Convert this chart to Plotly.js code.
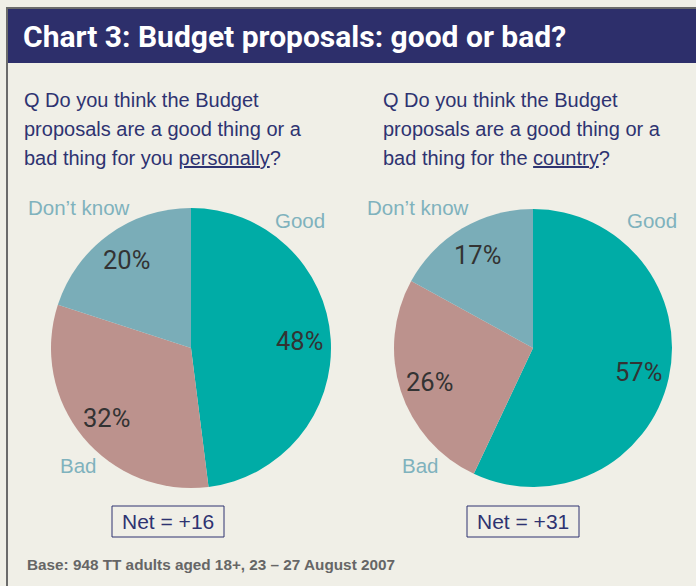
<!DOCTYPE html>
<html>
<head>
<meta charset="utf-8">
<script src="https://cdn.plot.ly/plotly-3.0.1.min.js"></script>
<style>
  html, body { margin: 0; padding: 0; background: #f0efe7; }
  #chart { width: 696px; height: 586px; }
</style>
</head>
<body>
<div id="chart"></div>
<script>
// ---- data ----
const categories = ["Good", "Bad", "Don\u2019t know"];
const personalValues = [48, 32, 20];
const countryValues = [57, 26, 17];
const personalNet = "+16";
const countryNet = "+31";
const chartTitle = "Chart 3: Budget proposals: good or bad?";
const question1 = ["Q Do you think the Budget", "proposals are a good thing or a", "bad thing for you <span style=\"text-decoration:underline\">personally</span>?"];
const question2 = ["Q Do you think the Budget", "proposals are a good thing or a", "bad thing for the <span style=\"text-decoration:underline\">country</span>?"];
const baseNote = "Base: 948 TT adults aged 18+, 23 \u2013 27 August 2007";

// ---- styling ----
const W = 696, H = 586;
const sliceColors = ["#00aca6", "#bc928d", "#7aadb8"];
const navy = "#2d2f6b";
const labelColor = "#7fb2bd";
const sans = "'Liberation Sans', Arial, sans-serif";
const titleFont = "Roboto, 'Liberation Sans', sans-serif";
const px = x => x / W;
const py = y => 1 - y / H;

const pies = [
  {values: personalValues, cx: 191, cy: 348, r: 140, net: personalNet, netX: 168, q: question1, qx: 24,
   lab: {dk: [28, 208], good: [300, 221], bad: [78, 466]}},
  {values: countryValues, cx: 533, cy: 348, r: 139, net: countryNet, netX: 523, q: question2, qx: 383,
   lab: {dk: [367, 208], good: [652, 221], bad: [420, 466]}}
];

const data = pies.map(p => ({
  type: "pie",
  labels: categories,
  values: p.values,
  sort: false,
  direction: "clockwise",
  rotation: 0,
  textinfo: "none",
  hoverinfo: "label+percent",
  marker: {colors: sliceColors, line: {width: 0}},
  domain: {x: [px(p.cx - p.r), px(p.cx + p.r)], y: [py(p.cy + p.r), py(p.cy - p.r)]},
  showlegend: false
}));

const annotations = [];
const shapes = [];

// frame & title bar
shapes.push({type: "rect", xref: "paper", yref: "paper", x0: px(6), x1: px(8), y0: 0, y1: py(7), fillcolor: "#6b6b6b", line: {width: 0}, layer: "below"});
shapes.push({type: "rect", xref: "paper", yref: "paper", x0: px(6), x1: 1, y0: py(9), y1: py(7), fillcolor: "#6b6b6b", line: {width: 0}, layer: "below"});
shapes.push({type: "rect", xref: "paper", yref: "paper", x0: px(8), x1: 1, y0: py(63), y1: py(9), fillcolor: navy, line: {width: 0}, layer: "below"});

annotations.push({xref: "paper", yref: "paper", x: px(21), y: py(37), xanchor: "left", yanchor: "middle", showarrow: false,
  text: "<b>" + chartTitle + "</b>", font: {family: titleFont, size: 30, color: "#ffffff"}});

pies.forEach(p => {
  // question lines
  p.q.forEach((line, i) => {
    annotations.push({xref: "paper", yref: "paper", x: px(p.qx - 2), y: py(100 + 29 * i), xanchor: "left", yanchor: "middle", showarrow: false,
      text: line, font: {family: sans, size: 20, color: "#2e3371"}});
  });
  // category labels
  const labs = [["Good", p.lab.good, "center"], ["Bad", p.lab.bad, "center"], ["Don\u2019t know", p.lab.dk, "left"]];
  labs.forEach(l => {
    annotations.push({xref: "paper", yref: "paper", x: px(l[1][0] - (l[2] === "left" ? 2 : 0)), y: py(l[1][1]), xanchor: l[2], yanchor: "middle", showarrow: false,
      text: l[0], font: {family: sans, size: 20.5, color: labelColor}});
  });
  // percentage labels at slice mid-angles (from values)
  const total = p.values.reduce((a, b) => a + b, 0);
  let cum = 0;
  p.values.forEach(v => {
    const mid = (cum + v / 2) / total * 2 * Math.PI;
    cum += v;
    const x = p.cx + 0.78 * p.r * Math.sin(mid);
    const y = p.cy - 0.78 * p.r * Math.cos(mid);
    annotations.push({xref: "paper", yref: "paper", x: px(x), y: py(y), xanchor: "center", yanchor: "middle", showarrow: false,
      text: Math.round(v / total * 100) + "%", font: {family: "Roboto, 'Liberation Sans', sans-serif", size: 25.5, color: "#333333"}});
  });
  // net box
  annotations.push({xref: "paper", yref: "paper", x: px(p.netX), y: py(521.5), xanchor: "center", yanchor: "middle", showarrow: false,
    text: "Net = " + p.net, font: {family: sans, size: 21, color: "#2e3371"}});
  shapes.push({type: "rect", xref: "paper", yref: "paper", x0: px(p.netX - 56), x1: px(p.netX + 56), y0: py(537), y1: py(506),
    line: {color: "#2e3371", width: 1}, fillcolor: "rgba(0,0,0,0)"});
});

annotations.push({xref: "paper", yref: "paper", x: px(25), y: py(564), xanchor: "left", yanchor: "middle", showarrow: false,
  text: "<b>" + baseNote + "</b>", font: {family: sans, size: 15.3, color: "#666666"}});

const layout = {
  width: W, height: H,
  margin: {l: 0, r: 0, t: 0, b: 0},
  paper_bgcolor: "#f0efe7",
  plot_bgcolor: "#f0efe7",
  showlegend: false,
  annotations: annotations,
  shapes: shapes
};

Plotly.newPlot("chart", data, layout, {displayModeBar: false, staticPlot: true});
</script>
</body>
</html>
